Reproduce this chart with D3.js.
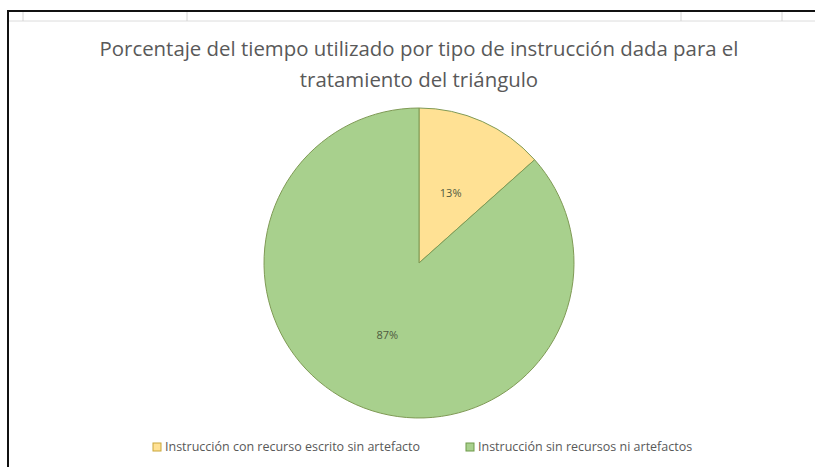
<!DOCTYPE html>
<html>
<head>
<meta charset="utf-8">
<script src="https://cdn.jsdelivr.net/npm/d3@7"></script>
<style>
  body { margin: 0; background: #fff; overflow: hidden; }
  svg { display: block; font-family: "Open Sans", "Noto Sans", sans-serif; }
</style>
</head>
<body>
<svg id="chart" width="815" height="467"></svg>
<script>
var categories = ['Instrucción con recurso escrito sin artefacto', 'Instrucción sin recursos ni artefactos'];
var values = [13.4, 86.6];
var colors = ['#FFE194', '#A8D08D'];
var titleLines = ['Porcentaje del tiempo utilizado por tipo de instrucción dada para el', 'tratamiento del triángulo'];

var svg = d3.select('#chart');

/* spreadsheet frame behind the chart: only top and left edges are in view */
svg.append('path')
  .attr('d', 'M8,467V11H815')
  .attr('fill', 'none')
  .attr('stroke', '#111').attr('stroke-width', 2);

svg.append('line')
  .attr('x1', 9).attr('x2', 815).attr('y1', 21).attr('y2', 21)
  .attr('stroke', '#dcdcdc');
[23, 187, 681, 782].forEach(function (x) {
  svg.append('line')
    .attr('x1', x).attr('x2', x).attr('y1', 12).attr('y2', 21)
    .attr('stroke', '#d4d4d4');
});

/* Title */
var cx = 419, cy = 263, r = 155;

svg.append('g').selectAll('text')
  .data(titleLines)
  .join('text')
  .attr('x', cx)
  .attr('y', function (d, i) { return 56 + i * 31; })
  .attr('text-anchor', 'middle')
  .attr('fill', '#595959')
  .style('font-size', '20.4px')
  .text(function (d) { return d; });

/* Pie */
var total = d3.sum(values);
var pie = d3.pie().sort(null).value(function (d) { return d; });
var arcs = pie(values);
var arc = d3.arc().innerRadius(0).outerRadius(r);

var g = svg.append('g').attr('transform', 'translate(' + cx + ',' + cy + ')');

g.selectAll('path')
  .data(arcs)
  .join('path')
  .attr('d', arc)
  .attr('fill', function (d, i) { return colors[i]; })
  .attr('stroke', '#7F9A55')
  .attr('stroke-width', 1);

var labelArc = d3.arc().innerRadius(r * 0.5).outerRadius(r * 0.5);
g.selectAll('text')
  .data(arcs)
  .join('text')
  .attr('transform', function (d) { return 'translate(' + labelArc.centroid(d) + ')'; })
  .attr('text-anchor', 'middle')
  .attr('dy', '0.45em')
  .attr('fill', '#4f5a40')
  .style('font-size', '11px')
  .text(function (d) { return Math.round(d.value / total * 100) + '%'; });

/* Legend */
var legendX = [153, 466];
var lg = svg.append('g').selectAll('g')
  .data(categories)
  .join('g')
  .attr('transform', function (d, i) { return 'translate(' + legendX[i] + ',447)'; });

lg.append('rect')
  .attr('x', 0).attr('y', -4)
  .attr('width', 8).attr('height', 8)
  .attr('fill', function (d, i) { return colors[i]; })
  .attr('stroke', function (d, i) { return i ? '#6f9a4a' : '#c9a63a'; });

lg.append('text')
  .attr('x', 12)
  .attr('dy', '0.35em')
  .attr('fill', '#595959')
  .style('font-size', '12.5px')
  .text(function (d) { return d; });
</script>
</body>
</html>
